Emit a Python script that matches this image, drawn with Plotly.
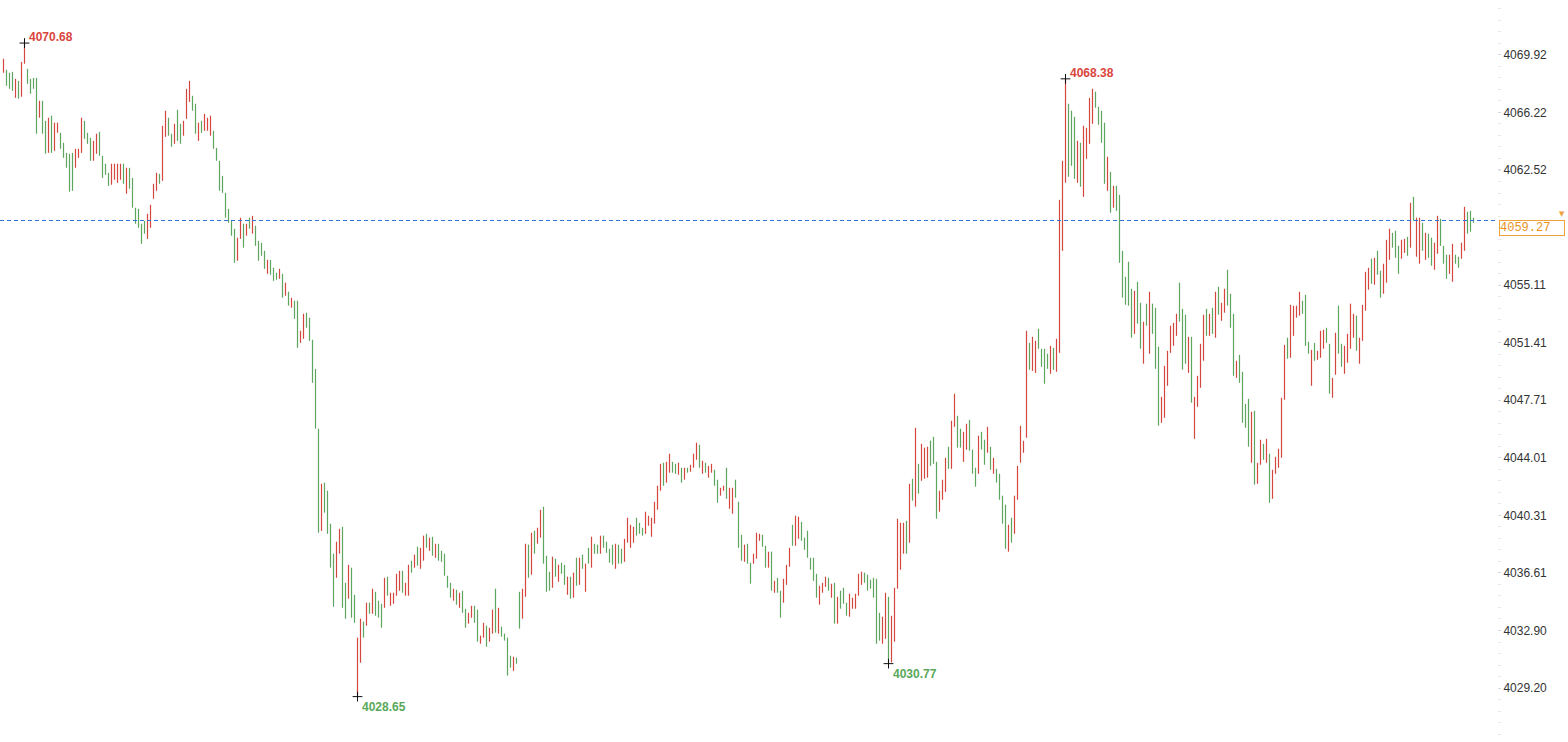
import plotly.graph_objects as go

# ---- data (price units) ----
highs = [
    4069.67, 4068.96, 4068.77, 4068.83, 4068.38, 4068.25, 4069.47, 4070.68, 4069.02, 4068.38,
    4068.44, 4068.44, 4066.97, 4066.97, 4065.68, 4065.88, 4066.01, 4065.56, 4065.56, 4064.91,
    4064.27, 4063.62, 4063.56, 4063.62, 4063.88, 4063.88, 4065.88, 4065.68, 4064.91, 4064.59,
    4064.39, 4064.85, 4064.97, 4063.43, 4062.92, 4062.34, 4062.92, 4062.92, 4062.92, 4062.92,
    4062.92, 4062.66, 4062.66, 4062.01, 4060.09, 4060.02, 4059.06, 4059.25, 4059.70, 4060.28,
    4061.63, 4062.34, 4062.27, 4065.36, 4066.33, 4065.88, 4064.85, 4065.49, 4066.39, 4065.49,
    4065.68, 4067.74, 4068.25, 4067.29, 4066.78, 4065.56, 4065.68, 4066.13, 4065.88, 4066.01,
    4065.04, 4063.94, 4063.11, 4062.14, 4061.05, 4060.02, 4059.25, 4058.74, 4058.16, 4059.45,
    4059.06, 4059.06, 4059.45, 4059.57, 4058.93, 4057.96, 4057.84, 4057.32, 4056.74, 4056.74,
    4056.23, 4055.91, 4056.16, 4055.84, 4055.27, 4054.69, 4054.30, 4054.11, 4054.11, 4052.18,
    4053.27, 4053.34, 4053.02, 4051.60, 4049.73, 4045.88, 4042.34, 4042.41, 4041.89, 4039.77,
    4037.84, 4038.61, 4039.44, 4039.57, 4035.97, 4037.13, 4036.94, 4035.20, 4032.44, 4033.66,
    4033.47, 4034.69, 4034.69, 4035.59, 4035.39, 4034.82, 4034.62, 4036.29, 4036.36, 4035.33,
    4035.33, 4036.55, 4036.74, 4036.74, 4035.97, 4037.13, 4037.39, 4037.78, 4038.29, 4038.22,
    4039.00, 4039.12, 4038.87, 4038.93, 4038.48, 4038.48, 4038.03, 4037.84, 4036.42, 4035.97,
    4035.59, 4035.52, 4035.33, 4035.46, 4034.30, 4034.04, 4034.49, 4034.49, 4034.24, 4032.57,
    4033.40, 4033.21, 4033.08, 4034.24, 4035.59, 4034.36, 4033.15, 4032.70, 4032.44, 4031.28,
    4031.21, 4031.15, 4035.39, 4035.59, 4038.48, 4038.42, 4039.19, 4039.32, 4039.51, 4040.67,
    4040.86, 4037.71, 4036.68, 4037.65, 4037.52, 4037.13, 4037.26, 4037.13, 4036.36, 4036.36,
    4036.62, 4037.58, 4037.58, 4037.78, 4037.20, 4038.22, 4038.93, 4038.48, 4038.42, 4039.00,
    4039.00, 4038.61, 4038.16, 4038.42, 4038.48, 4038.42, 4038.16, 4038.80, 4040.15, 4039.70,
    4039.57, 4040.15, 4039.83, 4039.51, 4040.54, 4040.28, 4040.15, 4041.18, 4042.21, 4043.62,
    4043.69, 4043.75, 4044.27, 4043.75, 4043.62, 4043.69, 4043.37, 4043.37, 4043.37, 4043.56,
    4044.27, 4044.98, 4044.85, 4043.82, 4043.69, 4043.49, 4043.62, 4043.24, 4042.60, 4042.08,
    4042.21, 4043.37, 4042.08, 4042.08, 4042.60, 4041.18, 4039.06, 4038.42, 4038.48, 4037.26,
    4037.84, 4039.19, 4039.12, 4039.06, 4038.35, 4037.97, 4037.97, 4036.10, 4036.29, 4035.46,
    4036.23, 4037.13, 4038.22, 4039.70, 4040.28, 4040.22, 4039.89, 4038.87, 4039.32, 4037.58,
    4037.58, 4036.55, 4035.78, 4035.97, 4036.36, 4036.29, 4035.91, 4035.97, 4035.07, 4035.46,
    4035.65, 4034.69, 4035.27, 4035.01, 4035.27, 4036.55, 4036.68, 4036.62, 4036.49, 4036.17,
    4036.29, 4036.23, 4034.04, 4033.79, 4035.33, 4035.07, 4033.85, 4035.65, 4040.09, 4039.83,
    4039.83, 4039.96, 4042.34, 4042.66, 4045.94, 4043.62, 4044.91, 4044.66, 4044.72, 4045.11,
    4045.36, 4043.75, 4041.89, 4042.60, 4044.01, 4044.72, 4046.39, 4048.13, 4046.71, 4045.88,
    4045.68, 4046.20, 4046.45, 4044.53, 4043.37, 4045.43, 4045.68, 4045.17, 4046.00, 4044.72,
    4044.01, 4043.30, 4042.98, 4041.57, 4040.99, 4039.70, 4040.15, 4041.57, 4043.49, 4046.07,
    4045.10, 4052.18, 4051.40, 4051.79, 4051.53, 4052.31, 4051.02, 4051.02, 4050.70, 4051.21,
    4051.08, 4051.66, 4060.60, 4063.11, 4068.38, 4066.78, 4066.33, 4065.94, 4064.40, 4064.27,
    4065.36, 4065.23, 4067.16, 4067.74, 4067.55, 4066.58, 4066.33, 4065.56, 4063.37, 4062.40,
    4061.50, 4061.50, 4060.92, 4057.32, 4055.65, 4056.62, 4054.88, 4054.75, 4055.33, 4053.98,
    4052.76, 4053.92, 4054.69, 4053.92, 4053.66, 4051.15, 4047.93, 4049.92, 4050.89, 4052.50,
    4052.69, 4053.27, 4055.27, 4053.59, 4053.21, 4051.79, 4051.79, 4047.93, 4049.28, 4051.34,
    4053.21, 4053.59, 4053.27, 4053.66, 4054.69, 4055.01, 4053.98, 4054.88, 4056.10, 4054.56,
    4053.27, 4050.25, 4050.63, 4049.54, 4047.48, 4047.80, 4046.97, 4047.03, 4043.69, 4045.17,
    4044.91, 4045.23, 4044.27, 4043.24, 4044.07, 4044.59, 4047.87, 4051.27, 4051.73, 4053.85,
    4053.79, 4053.79, 4054.69, 4054.11, 4054.49, 4051.47, 4050.95, 4051.40, 4050.89, 4052.18,
    4052.24, 4052.37, 4051.34, 4049.15, 4052.05, 4053.79, 4051.34, 4051.21, 4051.98, 4053.92,
    4053.27, 4053.15, 4051.73, 4053.85, 4055.97, 4056.23, 4056.81, 4056.87, 4057.32, 4056.04,
    4056.49, 4058.03, 4058.74, 4058.48, 4058.61, 4057.64, 4058.03, 4058.09, 4058.22, 4060.41,
    4060.79, 4059.45, 4059.45, 4059.12, 4058.48, 4058.42, 4058.16, 4057.84, 4059.57, 4059.38,
    4057.64, 4057.07, 4057.07, 4057.77, 4057.07, 4056.94, 4057.84, 4060.15, 4059.83, 4059.89,
    4059.45,
]

lows = [
    4068.77, 4067.93, 4067.74, 4067.61, 4067.16, 4067.10, 4067.23, 4069.35, 4068.06, 4067.42,
    4067.74, 4064.85, 4065.88, 4064.85, 4063.56, 4063.62, 4063.62, 4063.75, 4064.91, 4063.88,
    4063.30, 4062.66, 4061.12, 4061.18, 4062.66, 4063.30, 4063.62, 4064.52, 4064.20, 4063.11,
    4063.11, 4063.56, 4063.43, 4062.01, 4062.21, 4061.50, 4061.57, 4061.89, 4061.69, 4061.89,
    4061.63, 4060.99, 4061.31, 4060.09, 4059.06, 4058.80, 4057.77, 4058.42, 4058.09, 4058.80,
    4060.67, 4061.18, 4061.63, 4061.82, 4064.65, 4064.72, 4064.01, 4064.20, 4064.39, 4064.20,
    4064.72, 4065.81, 4066.90, 4066.33, 4064.85, 4064.39, 4064.91, 4065.04, 4065.04, 4064.72,
    4063.88, 4063.11, 4061.18, 4061.05, 4059.45, 4059.12, 4058.29, 4056.55, 4056.68, 4058.09,
    4057.52, 4058.29, 4058.74, 4058.42, 4057.64, 4056.68, 4057.00, 4056.16, 4055.84, 4055.78,
    4055.39, 4055.46, 4055.52, 4054.30, 4054.43, 4053.79, 4053.66, 4052.95, 4051.08, 4051.40,
    4051.66, 4052.37, 4051.53, 4048.83, 4045.88, 4039.19, 4039.31, 4040.48, 4039.12, 4036.94,
    4034.43, 4036.29, 4037.84, 4034.36, 4033.66, 4034.95, 4033.72, 4033.40, 4028.65, 4030.83,
    4032.44, 4033.21, 4033.98, 4033.98, 4033.85, 4033.72, 4033.08, 4034.36, 4035.14, 4034.49,
    4034.62, 4035.14, 4035.46, 4035.33, 4035.14, 4035.14, 4036.62, 4036.94, 4037.07, 4036.87,
    4037.39, 4038.22, 4038.03, 4037.71, 4037.58, 4037.39, 4037.32, 4036.42, 4035.65, 4035.01,
    4034.82, 4034.56, 4034.36, 4034.04, 4033.08, 4033.34, 4033.72, 4033.40, 4032.18, 4032.05,
    4032.44, 4031.86, 4032.18, 4032.70, 4032.76, 4032.70, 4032.50, 4032.25, 4030.00, 4030.51,
    4030.31, 4030.76, 4033.02, 4033.66, 4035.07, 4036.29, 4036.49, 4037.84, 4038.48, 4038.87,
    4037.20, 4035.39, 4035.46, 4035.65, 4036.36, 4036.04, 4036.55, 4035.84, 4035.20, 4034.95,
    4035.01, 4035.78, 4035.84, 4036.87, 4035.39, 4037.20, 4036.94, 4037.84, 4037.84, 4037.84,
    4038.22, 4037.90, 4037.26, 4037.13, 4036.87, 4037.20, 4037.20, 4037.32, 4038.55, 4038.22,
    4038.55, 4039.00, 4039.12, 4039.00, 4039.12, 4039.64, 4038.93, 4039.77, 4040.67, 4041.89,
    4042.21, 4042.41, 4043.05, 4043.05, 4042.98, 4042.92, 4042.41, 4042.60, 4043.05, 4043.11,
    4043.37, 4043.88, 4043.37, 4042.98, 4043.05, 4042.73, 4043.05, 4042.21, 4041.12, 4041.57,
    4041.89, 4041.37, 4040.73, 4040.41, 4041.44, 4038.22, 4037.39, 4037.32, 4037.20, 4035.91,
    4037.20, 4037.52, 4038.67, 4038.29, 4036.94, 4036.94, 4035.46, 4035.33, 4035.33, 4033.72,
    4034.69, 4035.84, 4037.00, 4038.35, 4038.35, 4038.80, 4038.67, 4038.09, 4037.58, 4036.81,
    4036.10, 4035.01, 4034.56, 4035.33, 4035.71, 4035.46, 4035.01, 4033.34, 4033.34, 4034.30,
    4034.62, 4033.85, 4033.79, 4034.30, 4034.30, 4035.14, 4035.84, 4035.97, 4035.46, 4035.59,
    4035.01, 4032.05, 4032.25, 4032.05, 4032.37, 4030.77, 4030.85, 4032.18, 4035.59, 4036.81,
    4037.84, 4037.84, 4038.55, 4041.25, 4040.86, 4041.70, 4042.53, 4042.66, 4042.73, 4043.49,
    4043.62, 4040.09, 4040.54, 4041.31, 4041.82, 4043.30, 4043.30, 4046.00, 4044.66, 4044.66,
    4043.75, 4044.53, 4044.46, 4042.98, 4042.15, 4042.98, 4044.53, 4043.56, 4044.33, 4043.24,
    4042.98, 4042.41, 4041.31, 4039.77, 4038.16, 4037.97, 4038.55, 4039.12, 4041.31, 4043.69,
    4044.33, 4045.30, 4049.67, 4049.60, 4049.47, 4051.02, 4049.86, 4048.77, 4049.73, 4049.41,
    4049.67, 4049.54, 4050.76, 4057.32, 4061.70, 4062.08, 4062.79, 4061.95, 4061.70, 4061.44,
    4060.79, 4063.24, 4064.20, 4065.49, 4066.52, 4065.43, 4064.27, 4061.63, 4061.18, 4059.77,
    4060.09, 4059.89, 4056.55, 4054.30, 4053.85, 4053.79, 4051.73, 4051.98, 4052.63, 4051.02,
    4050.06, 4052.50, 4050.70, 4051.98, 4049.73, 4046.07, 4046.26, 4046.58, 4048.64, 4050.76,
    4051.21, 4051.85, 4052.76, 4049.67, 4050.06, 4049.47, 4047.55, 4045.23, 4047.29, 4048.51,
    4050.25, 4051.85, 4051.85, 4051.98, 4051.73, 4053.21, 4052.82, 4053.34, 4053.79, 4052.37,
    4049.28, 4049.15, 4048.83, 4046.26, 4045.94, 4044.72, 4043.69, 4042.28, 4042.34, 4043.56,
    4043.88, 4043.69, 4041.12, 4041.37, 4042.98, 4043.37, 4044.01, 4047.74, 4050.38, 4050.44,
    4051.85, 4053.02, 4053.15, 4053.27, 4051.21, 4050.70, 4048.64, 4050.25, 4050.31, 4050.44,
    4051.02, 4051.40, 4048.13, 4047.87, 4049.35, 4050.70, 4049.86, 4049.41, 4050.12, 4051.02,
    4051.73, 4050.89, 4050.06, 4051.53, 4053.47, 4054.82, 4055.20, 4055.14, 4055.78, 4054.30,
    4054.56, 4055.27, 4056.74, 4057.52, 4056.87, 4055.84, 4056.81, 4057.19, 4057.00, 4057.52,
    4059.25, 4056.94, 4056.49, 4057.32, 4056.74, 4056.87, 4056.36, 4056.10, 4057.13, 4057.64,
    4056.49, 4055.52, 4055.84, 4055.33, 4056.49, 4056.23, 4056.81, 4057.32, 4058.42, 4058.55,
    4059.12,
]

# 1 = rising bar (red), 0 = falling bar (green)
up = [
    1,0,0,0,1,0,1,1,0,0, 0,0,1,0,0,1,0,1,1,0, 0,0,0,0,1,1,1,0,0,0, 1,1,0,0,0,0,1,1,1,1,
    0,1,0,0,0,0,0,0,1,1, 1,1,0,1,1,0,0,1,0,0, 1,1,1,0,0,1,0,1,1,1, 0,0,0,0,0,0,0,0,1,1,
    0,1,0,1,0,0,0,0,1,0, 0,0,1,0,1,0,1,0,0,1, 1,0,0,0,0,0,1,0,0,0, 0,1,1,0,0,1,0,0,1,1,
    0,1,0,1,0,0,0,1,0,1, 1,1,1,0,1,1,0,1,0,1, 1,0,1,0,1,0,0,0,0,0, 1,0,1,0,0,1,1,0,0,1,
    1,0,1,1,0,1,0,0,0,0, 1,0,0,1,1,0,1,0,1,1, 0,0,0,1,0,1,0,0,1,0, 1,0,1,0,1,0,1,0,0,1,
    0,0,0,0,1,0,0,1,1,1, 1,0,0,0,1,1,1,1,1,1, 0,1,1,0,0,1,0,1,0,1, 1,1,0,1,0,1,1,0,0,1,
    1,0,1,1,0,0,0,1,0,0, 1,1,1,0,0,1,0,1,0,0, 1,1,1,0,1,1,0,0,0,0, 0,0,1,1,1,0,1,0,1,0,
    0,0,1,1,1,1,1,0,0,0, 0,0,0,1,1,0,1,1,1,1, 1,0,1,0,1,0,1,1,1,0, 0,0,1,1,1,0,1,1,0,0,
    1,1,0,0,0,1,0,0,1,0, 1,0,0,0,0,1,0,1,1,1, 1,1,0,1,1,0,0,0,0,1, 0,1,1,1,1,0,0,0,1,0,
    1,1,1,1,0,0,0,0,1,0, 1,0,0,0,0,0,0,1,0,0, 1,0,1,0,0,0,1,1,1,1, 1,1,0,0,0,1,0,1,1,1,
    1,0,1,0,1,0,1,1,0,0, 0,1,0,0,0,0,1,0,1,1, 0,1,0,1,1,1,1,1,0,1, 1,1,1,0,0,0,1,0,1,1,
    1,0,0,1,1,0,0,1,1,1, 1,0,1,1,1,1,0,1,0,0, 1,1,1,0,0,0,1,1,0,1, 0,1,1,0,1,0,0,1,1,0,
    0,0,1,1,0,0,1,1,0,0, 0,
]

# visible tick labels (the 4058.82 level is covered by the last-price box)
tick_labels = ["4029.20", "4032.90", "4036.61", "4040.31", "4044.01", "4047.71",
               "4051.41", "4055.11", "4062.52", "4066.22", "4069.92"]
tick_step = 3.7018
last_price = 4059.27
# extreme markers: (bar index, kind, price)
extremes = [(7, "high", 4070.68), (118, "low", 4028.65),
            (295, "low", 4030.77), (354, "high", 4068.38)]

if not (len(highs) == len(lows) == len(up)):
    raise SystemExit(f"length mismatch {len(highs)} {len(lows)} {len(up)}")

n = len(highs)
RED = "#d4473f"
GREEN = "#5ea55e"


def segments(flag):
    xs, ys = [], []
    for i in range(n):
        if up[i] == flag:
            xs += [i, i, None]
            ys += [lows[i], highs[i], None]
    return xs, ys


fig = go.Figure()
for flag, col in ((1, RED), (0, GREEN)):
    xs, ys = segments(flag)
    fig.add_trace(go.Scatter(x=xs, y=ys, mode="lines",
                             line=dict(color=col, width=1.2),
                             hoverinfo="skip", showlegend=False))

# crosses at extremes
fig.add_trace(go.Scatter(
    x=[e[0] for e in extremes], y=[e[2] for e in extremes], mode="markers",
    marker=dict(symbol="cross-thin", size=7, line=dict(color="#111111", width=1)),
    hoverinfo="skip", showlegend=False))

annotations = []
for idx, kind, price in extremes:
    is_high = kind == "high"
    annotations.append(dict(
        x=idx, y=price, xref="x", yref="y", text=f"<b>{price:.2f}</b>",
        showarrow=False, xanchor="left", yanchor="bottom" if is_high else "top",
        xshift=2, yshift=-3 if is_high else -1,
        font=dict(family="Liberation Sans, Arial", size=12,
                  color="#d9463d" if is_high else "#5aa85a")))

# current price box
annotations.append(dict(
    x=1, xref="paper", y=last_price, yref="y", text=f"{last_price:.2f}",
    showarrow=False, xanchor="left", yanchor="top", xshift=2, yshift=0,
    font=dict(family="Liberation Mono, DejaVu Sans Mono", size=12, color="#e8921c"),
    bgcolor="#ffffff", bordercolor="#eea23c", borderwidth=1, borderpad=0,
    width=64, align="left"))
annotations.append(dict(
    x=1, xref="paper", y=last_price, yref="y", text="▼",
    showarrow=False, xanchor="left", yanchor="bottom", xshift=60, yshift=0,
    font=dict(family="DejaVu Sans", size=7, color="#eea23c")))

fig.update_layout(
    width=1568, height=742,
    margin=dict(l=0, r=71, t=0, b=0),
    paper_bgcolor="#ffffff", plot_bgcolor="#ffffff",
    showlegend=False,
    xaxis=dict(range=[-1 - 1 / 6, 498 - 1 / 6], visible=False, fixedrange=True),
    yaxis=dict(
        side="right", range=[4025.73, 4073.45],
        tickmode="array", tickvals=[float(t) for t in tick_labels], ticktext=tick_labels,
        tickfont=dict(family="Liberation Sans, Arial", size=12, color="#333333"),
        showgrid=False, zeroline=False, showline=False,
        ticks="outside", ticklen=3, tickcolor="#d9d9d9",
        minor=dict(ticks="outside", ticklen=3, tickcolor="#e8e8e8",
                   tickmode="linear", tick0=float(tick_labels[0]), dtick=tick_step / 5),
    ),
    shapes=[dict(type="line", xref="paper", x0=0, x1=1, yref="y",
                 y0=last_price, y1=last_price,
                 line=dict(color="#2f72dc", width=1, dash="4px,3px"))],
    annotations=annotations,
)

fig.write_html("out.html")
